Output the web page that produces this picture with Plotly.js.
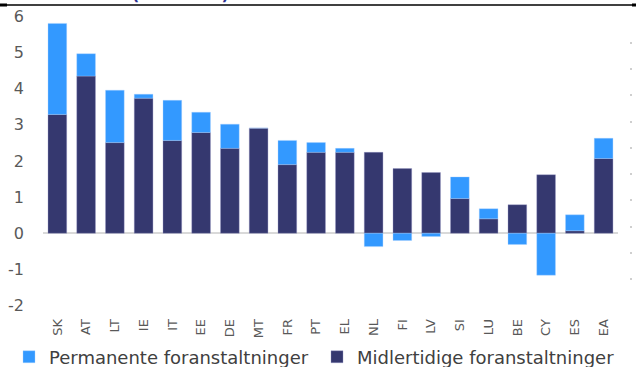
<!DOCTYPE html>
<html>
<head>
<meta charset="utf-8">
<script src="https://cdn.plot.ly/plotly-3.0.1.min.js"></script>
<style>
  html, body { margin: 0; padding: 0; background: #ffffff; }
  #chart { width: 636px; height: 367px; }
</style>
</head>
<body>
<div id="chart"></div>
<script>
// Countries (euro area members + euro area aggregate)
var countries = ['SK','AT','LT','IE','IT','EE','DE','MT','FR','PT','EL','NL','FI','LV','SI','LU','BE','CY','ES','EA'];

// Temporary measures, % of GDP
var temporary = [3.29, 4.35, 2.51, 3.74, 2.57, 2.79, 2.35, 2.91, 1.90, 2.24, 2.24, 2.24, 1.79, 1.68, 0.96, 0.40, 0.79, 1.62, 0.07, 2.07];

// Permanent measures, % of GDP
var permanent = [2.52, 0.62, 1.45, 0.11, 1.11, 0.56, 0.67, 0.00, 0.67, 0.27, 0.11, -0.37, -0.20, -0.09, 0.60, 0.28, -0.31, -1.16, 0.44, 0.56];

var yTicks = [-2, -1, 0, 1, 2, 3, 4, 5, 6];

var darkBlue = '#35386f';
var lightBlue = '#3399ff';

var traces = [
  {
    type: 'bar',
    name: 'Midlertidige foranstaltninger',
    x: countries,
    y: temporary,
    marker: { color: darkBlue, line: { color: 'rgba(150,150,200,0.6)', width: 0.6 } },
    hoverinfo: 'x+y+name'
  },
  {
    type: 'bar',
    name: 'Permanente foranstaltninger',
    x: countries,
    y: permanent,
    marker: { color: lightBlue, line: { color: 'rgba(170,210,255,0.6)', width: 0.6 } },
    hoverinfo: 'x+y+name'
  },
  {
    // carries the secondary right-hand axis (tick marks only)
    type: 'scatter',
    x: [],
    y: [],
    yaxis: 'y2',
    showlegend: false,
    hoverinfo: 'skip'
  }
];

var layout = {
  width: 636,
  height: 367,
  margin: { l: 8, r: 0, t: 5, b: 2, autoexpand: false },
  paper_bgcolor: '#ffffff',
  plot_bgcolor: '#ffffff',
  barmode: 'relative',
  bargap: 0.35,
  showlegend: true,
  font: { family: 'DejaVu Sans, sans-serif', color: '#595959' },
  xaxis: {
    domain: [0.0557, 0.9713],
    type: 'category',
    showgrid: false,
    showline: false,
    zeroline: false,
    ticks: '',
    tickangle: -90,
    tickfont: { size: 13, color: '#595959' },
    ticklabelstandoff: 10
  },
  yaxis: {
    domain: [0.1653, 0.968],
    range: [-2, 6],
    tickvals: yTicks,
    ticktext: yTicks.map(String),
    showgrid: false,
    showline: false,
    zeroline: true,
    zerolinecolor: '#d9d9d9',
    zerolinewidth: 2,
    ticks: '',
    tickfont: { size: 16, color: '#595959' },
    ticklabelstandoff: 18
  },
  yaxis2: {
    domain: [0, 0.9167],
    range: [0, 11],
    dtick: 1,
    overlaying: 'y',
    anchor: 'free',
    position: 0.9936,
    side: 'right',
    showgrid: false,
    showline: false,
    zeroline: false,
    showticklabels: false,
    ticks: 'inside',
    ticklen: 2,
    tickwidth: 2,
    tickcolor: '#cfcfcf'
  },
  legend: {
    orientation: 'h',
    traceorder: 'reversed',
    x: 0.0016,
    xanchor: 'left',
    y: 0.022,
    yanchor: 'middle',
    entrywidth: 263,
    entrywidthmode: 'pixels',
    font: { size: 18, color: '#404040', family: 'DejaVu Sans, sans-serif' },
    bgcolor: 'rgba(0,0,0,0)'
  },
  shapes: [
    { type: 'line', xref: 'paper', yref: 'paper', x0: -0.02, x1: 1.01, y0: 1, y1: 1,
      line: { color: '#000000', width: 1.5 } },
    { type: 'line', xref: 'paper', yref: 'paper', x0: -0.02, x1: -0.0016, y0: 1, y1: 1,
      line: { color: '#000000', width: 3 } },
    { type: 'line', xref: 'paper', yref: 'paper', x0: 0.9936, x1: 1.01, y0: 1, y1: 1,
      line: { color: '#000000', width: 3 } }
  ],
  annotations: [
    { text: '<b>(% af BNP)</b>', xref: 'paper', yref: 'paper', x: 0.2739, y: 0.997,
      xanchor: 'center', yanchor: 'bottom', showarrow: false,
      font: { size: 16, color: '#2e3192', family: 'DejaVu Sans, sans-serif' } }
  ]
};

Plotly.newPlot('chart', traces, layout, { displayModeBar: false, staticPlot: true });
</script>
</body>
</html>
